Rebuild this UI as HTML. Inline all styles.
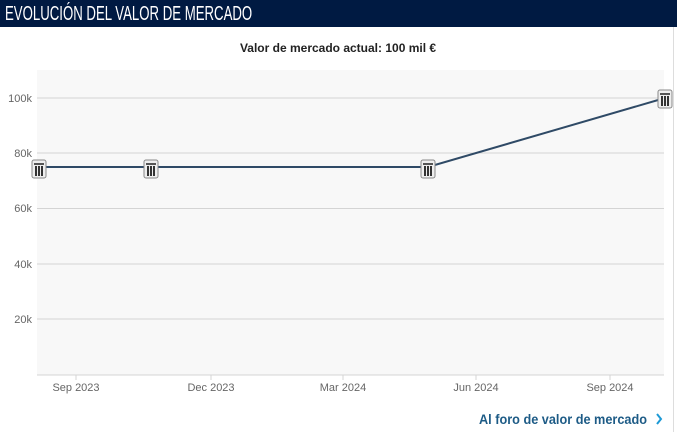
<!DOCTYPE html>
<html><head><meta charset="utf-8"><style>
body{margin:0;width:677px;height:432px;background:#fff;font-family:"Liberation Sans",sans-serif;overflow:hidden;position:relative}
.hdb{position:absolute;left:0;top:0;width:677px;height:27px;background:#001a42}
.hd{position:absolute;left:5px;top:0;color:#fff;font-family:"Liberation Sans Narrow","Liberation Sans",sans-serif;font-size:20px;line-height:28px;white-space:nowrap;transform:scaleX(0.66);transform-origin:left;}
.rb{position:absolute;left:673px;top:27px;width:1px;height:405px;background:#ddd}
</style></head><body>
<div class="hdb"></div><div class="hd">EVOLUCIÓN DEL VALOR DE MERCADO</div>
<div class="rb"></div>
<svg width="677" height="432" style="position:absolute;left:0;top:0">
<defs><g id="c"><rect x="-7" y="-9" width="14" height="18" rx="2" fill="#eee" stroke="#888" stroke-width="1"/><rect x="-5" y="-6" width="10" height="2" fill="#555"/><rect x="-4" y="-3" width="2" height="10" fill="#333"/><rect x="-1" y="-3" width="2" height="10" fill="#333"/><rect x="2" y="-3" width="2" height="10" fill="#333"/></g></defs>
<text x="338" y="52" text-anchor="middle" font-size="12" font-weight="bold" fill="#222">Valor de mercado actual: 100 mil €</text>
<rect x="37" y="70" width="627" height="305" fill="#f8f8f8"/>
<g stroke="#d4d4d4" stroke-width="1">
<line x1="37" x2="664" y1="98" y2="98"/><line x1="37" x2="664" y1="153" y2="153"/><line x1="37" x2="664" y1="208.5" y2="208.5"/><line x1="37" x2="664" y1="264" y2="264"/><line x1="37" x2="664" y1="319" y2="319"/><line x1="37" x2="664" y1="375" y2="375"/>
<line x1="76" x2="76" y1="375" y2="380"/><line x1="211" x2="211" y1="375" y2="380"/><line x1="343" x2="343" y1="375" y2="380"/><line x1="476" x2="476" y1="375" y2="380"/><line x1="610" x2="610" y1="375" y2="380"/>
</g>
<g font-size="11" fill="#666" text-anchor="end">
<text x="32" y="102">100k</text><text x="32" y="157">80k</text><text x="32" y="212">60k</text><text x="32" y="268">40k</text><text x="32" y="323">20k</text></g>
<g font-size="11" fill="#666" text-anchor="middle">
<text x="76" y="391">Sep 2023</text><text x="211" y="391">Dec 2023</text><text x="343" y="391">Mar 2024</text><text x="476" y="391">Jun 2024</text><text x="610" y="391">Sep 2024</text></g>
<polyline points="39,167 151,167 428,167 665,98" fill="none" stroke="#2f4a66" stroke-width="2"/>
<use href="#c" x="39" y="169"/><use href="#c" x="151" y="169"/><use href="#c" x="428" y="169"/><use href="#c" x="665" y="99"/>
<text x="647" y="424" text-anchor="end" font-size="13.5" font-weight="bold" fill="#1d5b86" textLength="168" lengthAdjust="spacingAndGlyphs">Al foro de valor de mercado</text>
<polyline points="657,414 661,419 657,424" fill="none" stroke="#1d9ad6" stroke-width="2"/>
</svg>
</body></html>
